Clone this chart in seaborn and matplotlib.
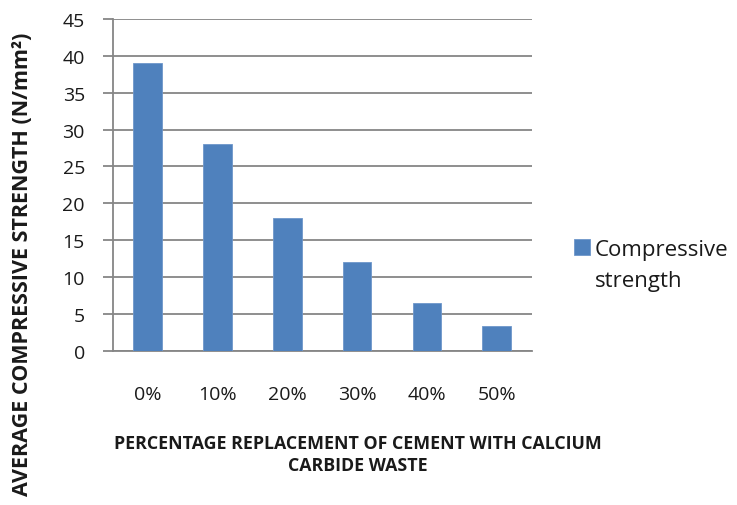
import matplotlib
matplotlib.use("Agg")
import matplotlib.pyplot as plt
import seaborn as sns

# Compressive strength of concrete vs. share of cement replaced by calcium carbide waste
replacement = ["0%", "10%", "20%", "30%", "40%", "50%"]
strength = [39.0, 28.0, 18.0, 12.0, 6.5, 3.3]
y_ticks = [0, 5, 10, 15, 20, 25, 30, 35, 40, 45]

bar_color = "#4F81BD"
grid_color = "#868686"
text_color = "#1a1a1a"

sns.set_theme(style="white")
plt.rcParams["font.family"] = ["Open Sans", "DejaVu Sans"]

fig = plt.figure(figsize=(7.37, 5.06), dpi=100)
ax = fig.add_axes([0.1529, 0.3049, 0.5685, 0.6556])

sns.barplot(x=replacement, y=strength, color=bar_color, saturation=1,
            width=0.41, ax=ax, label="Compressive\nstrength",
            edgecolor="#6E97CB", linewidth=0.6, zorder=3)

ax.set_ylim(0, 45)
ax.set_xlim(-0.5, len(replacement) - 0.5)
ax.set_yticks(y_ticks)
ax.set_yticklabels([str(t) for t in y_ticks], fontsize=14)
ax.yaxis.grid(True, color=grid_color, linewidth=1.3, zorder=0)
ax.set_axisbelow(True)

for side in ["top", "right"]:
    ax.spines[side].set_visible(False)
for side in ["left", "bottom"]:
    ax.spines[side].set_color(grid_color)
    ax.spines[side].set_linewidth(1.3)

ax.tick_params(axis="y", which="major", length=7, width=1.3, color=grid_color,
               direction="out", pad=13, left=True)
ax.tick_params(axis="x", length=0, pad=25, labelsize=14)
for lbl in ax.get_xticklabels() + ax.get_yticklabels():
    lbl.set_color(text_color)

ax.set_xlabel("")
ax.set_ylabel("")

fig.text(358 / 737, 1 - 455 / 506,
         "PERCENTAGE REPLACEMENT OF CEMENT WITH CALCIUM\nCARBIDE WASTE",
         ha="center", va="center", fontsize=12.8, fontweight="bold",
         color=text_color, linespacing=1.3)
fig.text(23 / 737, 1 - 264 / 506, "AVERAGE COMPRESSIVE STRENGTH (N/mm²)",
         ha="center", va="center", rotation=90, fontsize=15.5,
         fontweight="bold", color=text_color)

leg_size = 16
leg = ax.legend(loc="upper left", bbox_to_anchor=(574 / 737, 1 - 240 / 506),
                bbox_transform=fig.transFigure, frameon=False, fontsize=leg_size,
                handlelength=0.7, handleheight=0.7, handletextpad=0.25,
                borderpad=0, borderaxespad=0)
for t in leg.get_texts():
    t.set_linespacing(1.6)
    t.set_color(text_color)
# keep the colour key level with the first line of the two-line label
for h in leg.legend_handles:
    h.set_y(h.get_y() + 13)

fig.savefig("out.png", dpi=100)
